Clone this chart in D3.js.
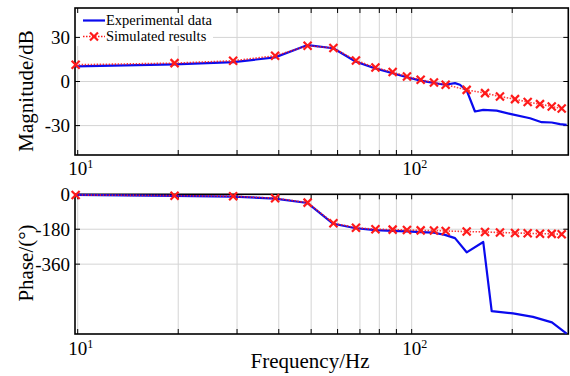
<!DOCTYPE html>
<html><head><meta charset="utf-8">
<script src="https://cdn.jsdelivr.net/npm/d3@7"></script>
<style>
html,body{margin:0;padding:0;background:#fff;}
svg{display:block;font-family:"Liberation Serif","Times New Roman",serif;}
</style></head>
<body><svg id="c" width="570" height="376"></svg>
<script>
// ---- data ----
const simFreq  = [9.86, 19.5, 29.2, 39, 48.8, 58.3, 68.1, 77.9, 87.7, 96.8, 106.4, 116.6, 126.4, 146.1, 165.8, 183.8, 203.9, 222.5, 242.2, 262.6, 281.3];
const simMag   = [11.4, 12.5, 14.1, 17.5, 24.3, 22.8, 14.3, 9.5, 6.4, 3.4, 1.2, -0.7, -2.2, -5.7, -7.9, -10.2, -12, -14, -15.4, -17, -18.4];
const simPhase = [-3.6, -7, -10, -20, -43, -149, -172, -180, -182, -184, -186, -187, -189, -192, -194, -197, -199, -201, -203, -204, -206];

const expMagFreq = [9.86, 19.46, 29.24, 38.96, 48.82, 58.25, 68.1, 77.9, 87.7, 96.8, 106.4, 116.6, 125.8, 134.8, 139.5, 146.1, 154.7, 163.8, 179.7, 197, 226.1, 245, 262.6, 278, 291.1];
const expMag     = [10.3, 11.6, 13.2, 16.4, 24.8, 22.6, 13.4, 8.9, 5.6, 2.9, 0.6, -1.0, -2.2, -1.1, -2.2, -6.1, -20.4, -19.3, -19.8, -22, -25, -27.7, -27.9, -29, -29.5];

const expPhFreq = [9.86, 19.46, 29.24, 38.96, 48.82, 58.25, 68.1, 77.9, 87.7, 96.8, 106.4, 116.6, 125.8, 134.8, 146.1, 163.8, 173.6, 201.1, 230.8, 263, 291];
const expPhase  = [-3, -8, -12, -22, -45, -152, -175, -185, -188, -191, -195, -198, -209, -226, -299, -246, -602, -614, -632, -660, -718];

const gridFreq = [10, 20, 30, 40, 50, 60, 70, 80, 90, 100, 200];
const magTicks = [30, 0, -30];
const phaseTicks = [0, -180, -360];
const legendLabels = ["Experimental data", "Simulated results"];

// ---- layout ----
const svg = d3.select("#c");
const x = d3.scaleLog().domain([9.816, 294.4]).range([75, 568.3]);
const yMag = d3.scaleLinear().domain([-50, 50]).range([155, 8]);
const yPh = d3.scaleLinear().domain([-720, 0]).range([334, 194.3]);

const blue = "#0a0aee", red = "#ff1a1a";

function panel(y, yTicks, titleText, titleY, expF, expV, simF, simV, tickLabelY, legend) {
  const [y0, y1] = y.range(); // bottom, top
  const g = svg.append("g");
  // grid
  g.selectAll(".gx").data(gridFreq).join("line")
    .attr("x1", d => x(d)).attr("x2", d => x(d))
    .attr("y1", y1).attr("y2", y0)
    .attr("stroke", "#d4d4d4").attr("stroke-width", 1);
  g.selectAll(".gy").data(yTicks).join("line")
    .attr("x1", x.range()[0]).attr("x2", x.range()[1])
    .attr("y1", d => y(d)).attr("y2", d => y(d))
    .attr("stroke", "#d4d4d4").attr("stroke-width", 1);

  // legend background (covers grid)
  if (legend) {
    g.append("rect").attr("x", 76).attr("y", 9).attr("width", 137).attr("height", 37).attr("fill", "#fff");
  }

  // ticks inward
  const tk = 5;
  gridFreq.forEach(f => {
    g.append("line").attr("x1", x(f)).attr("x2", x(f)).attr("y1", y0).attr("y2", y0 - tk).attr("stroke", "#000");
    g.append("line").attr("x1", x(f)).attr("x2", x(f)).attr("y1", y1).attr("y2", y1 + tk).attr("stroke", "#000");
  });
  yTicks.forEach(v => {
    g.append("line").attr("x1", x.range()[0]).attr("x2", x.range()[0] + tk).attr("y1", y(v)).attr("y2", y(v)).attr("stroke", "#000");
    g.append("line").attr("x1", x.range()[1]).attr("x2", x.range()[1] - tk).attr("y1", y(v)).attr("y2", y(v)).attr("stroke", "#000");
  });

  // frame
  g.append("rect").attr("x", x.range()[0]).attr("y", y1)
    .attr("width", x.range()[1] - x.range()[0]).attr("height", y0 - y1)
    .attr("fill", "none").attr("stroke", "#000").attr("stroke-width", 1.6);

  // y tick labels
  g.selectAll(".yl").data(yTicks).join("text")
    .attr("x", 70).attr("y", d => y(d)).attr("dy", "0.35em")
    .attr("text-anchor", "end").attr("font-size", 19).text(d => d);

  // x tick labels (decades)
  [10, 100].forEach((f, i) => {
    const t = g.append("text").attr("x", x(f) + 3).attr("y", tickLabelY)
      .attr("text-anchor", "middle").attr("font-size", 19);
    t.append("tspan").text("10");
    t.append("tspan").attr("font-size", 12).attr("dy", -7).text(i === 0 ? "1" : "2");
  });

  // y title
  g.append("text").attr("transform", `translate(33,${titleY}) rotate(-90)`)
    .attr("text-anchor", "middle").attr("font-size", 21).text(titleText);

  // data lines
  const lineExp = d3.line().x(d => x(d[0])).y(d => y(d[1]));
  g.append("path").datum(d3.zip(expF, expV)).attr("d", lineExp)
    .attr("fill", "none").attr("stroke", blue).attr("stroke-width", 2.2).attr("stroke-linejoin", "round");
  g.append("path").datum(d3.zip(simF, simV)).attr("d", lineExp)
    .attr("fill", "none").attr("stroke", red).attr("stroke-width", 1.6).attr("stroke-dasharray", "1.5,1.5").attr("opacity", 0.85);
  const s = 4;
  g.selectAll(".mk").data(d3.zip(simF, simV)).join("path")
    .attr("d", d => { const cx = x(d[0]), cy = y(d[1]);
      return `M${cx - s},${cy - s}L${cx + s},${cy + s}M${cx - s},${cy + s}L${cx + s},${cy - s}`; })
    .attr("stroke", red).attr("stroke-width", 2.2).attr("fill", "none");

  if (legend) {
    const lg = g.append("g");
    lg.append("line").attr("x1", 83).attr("x2", 105).attr("y1", 20.5).attr("y2", 20.5).attr("stroke", blue).attr("stroke-width", 2.2);
    lg.append("line").attr("x1", 83).attr("x2", 105).attr("y1", 36.5).attr("y2", 36.5).attr("stroke", red).attr("stroke-width", 1.6).attr("stroke-dasharray", "1.5,1.5");
    lg.append("path").attr("d", `M${94 - s},${36.5 - s}L${94 + s},${36.5 + s}M${94 - s},${36.5 + s}L${94 + s},${36.5 - s}`)
      .attr("stroke", red).attr("stroke-width", 2.2);
    lg.selectAll("text").data(legendLabels).join("text")
      .attr("x", 106).attr("y", (d, i) => 20.5 + i * 16).attr("dy", "0.33em")
      .attr("font-size", 14.5).text(d => d);
  }
}

panel(yMag, magTicks, "Magnitude/dB", 91, expMagFreq, expMag, simFreq, simMag, 175, true);
panel(yPh, phaseTicks, "Phase/(°)", 263, expPhFreq, expPhase, simFreq, simPhase, 355, false);

svg.append("text").attr("x", 310).attr("y", 368).attr("text-anchor", "middle")
  .attr("font-size", 21).text("Frequency/Hz");
</script></body></html>
